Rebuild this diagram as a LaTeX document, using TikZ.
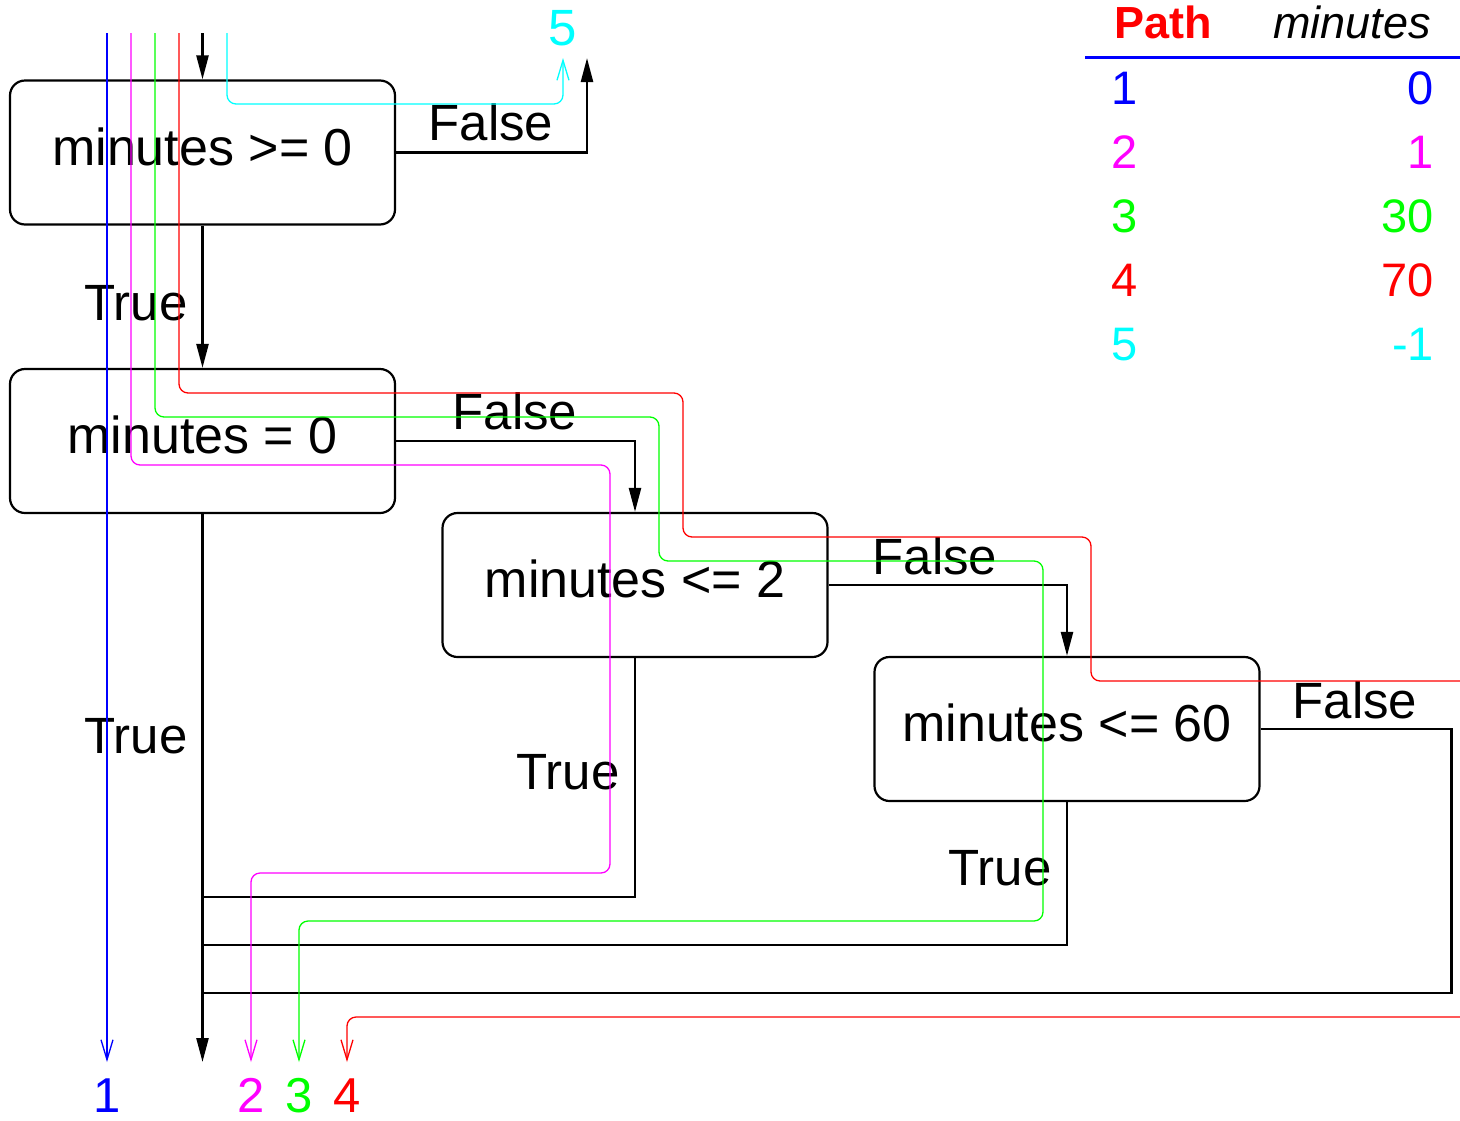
\documentclass[tikz,border=0pt]{standalone}
\usepackage{fontspec}
\setmainfont{Liberation Sans}
\usetikzlibrary{arrows.meta}
\definecolor{pblue}{RGB}{0,0,255}
\definecolor{pmagenta}{RGB}{255,0,255}
\definecolor{pgreen}{RGB}{0,255,0}
\definecolor{pred}{RGB}{255,0,0}
\definecolor{pcyan}{RGB}{0,255,255}
\begin{document}
\begin{tikzpicture}[x=1pt,y=-1pt,
  decision/.style={draw, line width=2.2pt, rounded corners=15pt,
    minimum width=385pt, minimum height=144pt, inner sep=0pt,
    text height=37pt, text depth=12pt, font=\fontsize{52}{60}\selectfont},
  flow/.style={line width=2.4pt},
  flowarrow/.style={flow, -{Triangle[length=24pt,width=12pt]}},
  branch/.style={font=\fontsize{51}{60}\selectfont, inner sep=0pt},
  trace/.style={line width=1.3pt, rounded corners=9pt},
  tracearrow/.style={trace, -{Straight Barb[length=20pt,width=12pt]}},
  tracelabel/.style={font=\fontsize{49}{58}\selectfont, inner sep=0pt, anchor=base},
  cell/.style={font=\fontsize{47}{56}\selectfont, inner sep=0pt},
]
\useasboundingbox (0,0) rectangle (1460,1120);

% decision boxes
\node[decision] (b1) at (202.5,152.5) {minutes >= 0};
\node[decision] (b2) at (202.5,441) {minutes = 0};
\node[decision] (b3) at (635,585) {minutes <= 2};
\node[decision] (b4) at (1067,729) {minutes <= 60};

% free ends and joins of the control flow
\coordinate (in)   at (202.5,33);
\coordinate (up)   at (587,58);
\coordinate (out)  at (202.5,1062);
\coordinate (j3)   at (202.5,897);
\coordinate (j4)   at (202.5,945);
\coordinate (j5)   at (202.5,993);

% control flow
\draw[flowarrow] (in) -- (b1.north);
\draw[flowarrow] (b1.east) -| (up);
\draw[flowarrow] (b1.south) -- (b2.north);
\draw[flowarrow] (b2.east) -| (b3.north);
\draw[flowarrow] (b2.south) -- (out);
\draw[flowarrow] (b3.east) -| (b4.north);
\draw[flow] (b3.south) |- (j3);
\draw[flow] (b4.south) |- (j4);
\draw[flow] (b4.east) -- ++(191,0) |- (j5);

% branch labels
\node[branch] (f1) at (491,122) {False};
\node[branch] (t1) at (136,303) {True};
\node[branch] (f2) at (515,411) {False};
\node[branch] (t2) at (136,736) {True};
\node[branch] (f3) at (935,556) {False};
\node[branch] (t3) at (568,772) {True};
\node[branch] (f4) at (1355,700) {False};
\node[branch] (t4) at (1000,868) {True};

% path labels
\node[tracelabel, pblue]    (p1) at (107,1112) {1};
\node[tracelabel, pmagenta] (p2) at (251,1112) {2};
\node[tracelabel, pgreen]   (p3) at (299,1112) {3};
\node[tracelabel, pred]     (p4) at (347,1112) {4};
\node[tracelabel, pcyan, font=\fontsize{51}{58}\selectfont] (p5) at (563,45) {5};

% start and end points of the traced paths
\coordinate (s1) at (107,33);  \coordinate (e1) at (107,1062);
\coordinate (s2) at (131,33);  \coordinate (e2) at (251,1062);
\coordinate (s3) at (155,33);  \coordinate (e3) at (299,1062);
\coordinate (s4) at (179,33);  \coordinate (e4) at (347,1062);
\coordinate (s5) at (227,33);  \coordinate (e5) at (563,58);
\coordinate (r4a) at (1460,681);
\coordinate (r4b) at (1460,1017);

% traced paths
\draw[tracearrow, pblue] (s1) -- (e1);
\draw[tracearrow, pmagenta] (s2) -- (131,465) -- (610,465) -- (610,873)
  -- (251,873) -- (e2);
\draw[tracearrow, pgreen] (s3) -- (155,417) -- (659,417) -- (659,561)
  -- (1043,561) -- (1043,921) -- (299,921) -- (e3);
\draw[trace, pred] (s4) -- (179,393) -- (683,393) -- (683,537)
  -- (1091,537) -- (1091,681) -- (r4a);
\draw[tracearrow, pred] (r4b) -- (347,1017) -- (e4);
\draw[tracearrow, pcyan] (s5) -- (227,104) -- (563,104) -- (e5);

% table of paths
\node[font=\fontsize{45}{52}\selectfont\bfseries, pred, anchor=base, inner sep=0pt]
  (hpath) at (1163,38) {Path};
\node[font=\fontsize{45}{52}\selectfont\itshape, anchor=base, inner sep=0pt]
  (hmin) at (1352,38) {minutes};
\draw[pblue, line width=3pt] (1085,57) -- (1460,57);

\foreach \n/\v/\c/\y in {1/0/pblue/104, 2/1/pmagenta/168, 3/30/pgreen/232,
                         4/70/pred/296, 5/-1/pcyan/360}{
  \node[cell, \c, anchor=base west] (k\n) at (1111,\y) {\n};
  \node[cell, \c, anchor=base east] (v\n) at (1434,\y) {\v};
}
\end{tikzpicture}
\end{document}
